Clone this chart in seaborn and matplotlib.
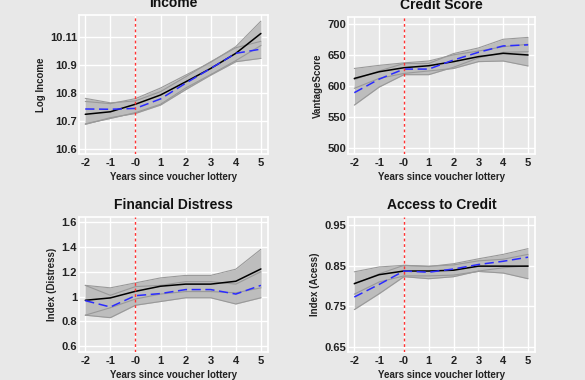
import numpy as np
import pandas as pd
import matplotlib
matplotlib.use("Agg")
import matplotlib.pyplot as plt
import seaborn as sns

# years relative to the voucher lottery
years = [-2, -1, 0, 1, 2, 3, 4, 5]
year_labels = ["-2", "-1", "-0", "1", "2", "3", "4", "5"]

# Income (log)
inc_solid = [10.724, 10.733, 10.760, 10.793, 10.840, 10.888, 10.942, 11.013]
inc_solid_lo = [10.690, 10.709, 10.730, 10.760, 10.818, 10.866, 10.916, 10.970]
inc_solid_hi = [10.770, 10.762, 10.780, 10.818, 10.864, 10.910, 10.966, 11.057]
inc_dash = [10.743, 10.742, 10.745, 10.779, 10.835, 10.888, 10.942, 10.957]
inc_dash_lo = [10.688, 10.712, 10.727, 10.757, 10.812, 10.864, 10.912, 10.924]
inc_dash_hi = [10.781, 10.765, 10.772, 10.805, 10.858, 10.912, 10.962, 10.985]

# Credit score
cs_solid = [611.9, 622.7, 629.2, 632.4, 639.0, 647.0, 652.4, 649.7]
cs_solid_lo = [596, 612, 620, 624, 628, 639, 640, 632]
cs_solid_hi = [628, 633, 637, 640, 650, 656, 663, 667]
cs_dash = [589.0, 610.8, 627.0, 627.0, 641.6, 654.0, 664.3, 666.0]
cs_dash_lo = [569, 598, 618, 618, 630, 645, 654, 655]
cs_dash_hi = [610, 624, 636, 636, 652, 661, 675, 678]

# Financial distress
fd_solid = [0.970, 0.989, 1.042, 1.083, 1.100, 1.100, 1.123, 1.222]
fd_solid_lo = [0.85, 0.91, 0.98, 1.02, 1.04, 1.04, 1.03, 1.07]
fd_solid_hi = [1.09, 1.07, 1.11, 1.15, 1.17, 1.17, 1.22, 1.38]
fd_dash = [0.967, 0.916, 1.007, 1.024, 1.056, 1.056, 1.020, 1.090]
fd_dash_lo = [0.85, 0.83, 0.93, 0.96, 0.99, 0.99, 0.94, 0.99]
fd_dash_hi = [1.09, 1.01, 1.08, 1.09, 1.12, 1.12, 1.10, 1.20]

# Access to credit
ac_solid = [0.806, 0.828, 0.837, 0.837, 0.839, 0.849, 0.849, 0.849]
ac_solid_lo = [0.780, 0.810, 0.825, 0.825, 0.827, 0.836, 0.832, 0.818]
ac_solid_hi = [0.835, 0.847, 0.851, 0.849, 0.852, 0.862, 0.866, 0.878]
ac_dash = [0.773, 0.804, 0.837, 0.834, 0.842, 0.853, 0.861, 0.871]
ac_dash_lo = [0.742, 0.781, 0.823, 0.818, 0.823, 0.837, 0.845, 0.850]
ac_dash_hi = [0.805, 0.830, 0.851, 0.848, 0.855, 0.867, 0.878, 0.892]

bg = "#e8e8e8"
sns.set_style("darkgrid", {"axes.facecolor": bg, "figure.facecolor": bg,
                           "grid.color": "white", "axes.edgecolor": "white"})
plt.rcParams["font.family"] = ["Liberation Sans", "DejaVu Sans"]
plt.rcParams["font.weight"] = "bold"

fig = plt.figure(figsize=(5.85, 3.8), dpi=100)
fig.patch.set_facecolor(bg)

panels = [
    ("Income", "Log Income", [0.135, 0.5947, 0.323, 0.3658],
     (inc_solid, inc_solid_lo, inc_solid_hi, inc_dash, inc_dash_lo, inc_dash_hi),
     (10.582, 11.079), [10.6, 10.7, 10.8, 10.9, 11.0],
     ["10.6", "10.7", "10.8", "10.9", "10.11"]),
    ("Credit Score", "VantageScore", [0.595, 0.5947, 0.3195, 0.3605],
     (cs_solid, cs_solid_lo, cs_solid_hi, cs_dash, cs_dash_lo, cs_dash_hi),
     (490.3, 710.8), [500, 550, 600, 650, 700],
     ["500", "550", "600", "650", "700"]),
    ("Financial Distress", "Index (Distress)", [0.135, 0.0737, 0.323, 0.3553],
     (fd_solid, fd_solid_lo, fd_solid_hi, fd_dash, fd_dash_lo, fd_dash_hi),
     (0.554, 1.640), [0.6, 0.8, 1.0, 1.2, 1.4, 1.6],
     ["0.6", "0.8", "1", "1.2", "1.4", "1.6"]),
    ("Access to Credit", "Index (Acess)", [0.595, 0.0737, 0.3195, 0.3553],
     (ac_solid, ac_solid_lo, ac_solid_hi, ac_dash, ac_dash_lo, ac_dash_hi),
     (0.6377, 0.970), [0.65, 0.75, 0.85, 0.95],
     ["0.65", "0.75", "0.85", "0.95"]),
]

for title, ylab, rect, series, ylim, yt, ytl in panels:
    ax = fig.add_axes(rect)
    solid, solid_lo, solid_hi, dash, dash_lo, dash_hi = series
    # confidence bands
    for lo, hi in [(solid_lo, solid_hi), (dash_lo, dash_hi)]:
        ax.fill_between(years, lo, hi, color="#bdbdbd", lw=0, zorder=2)
    for lo, hi in [(solid_lo, solid_hi), (dash_lo, dash_hi)]:
        ax.plot(years, lo, color="#999999", lw=0.8, zorder=3)
        ax.plot(years, hi, color="#999999", lw=0.8, zorder=3)
    df = pd.DataFrame({"year": years, "solid": solid, "dash": dash})
    sns.lineplot(data=df, x="year", y="solid", ax=ax, color="black", lw=1.1, zorder=4)
    sns.lineplot(data=df, x="year", y="dash", ax=ax, color="#2b2bff", lw=1.1, zorder=5)
    ax.lines[-1].set_dashes((6, 3))
    ax.axvline(0, color="#ff3333", ls=(0, (2, 2)), lw=1.0, zorder=6)
    ax.set_xlim(-2.25, 5.28)
    ax.set_ylim(*ylim)
    ax.set_xticks(years)
    ax.set_xticklabels(year_labels)
    ax.set_yticks(yt)
    ax.set_yticklabels(ytl)
    ax.grid(True, color="white", lw=1.0, zorder=1)
    ax.set_axisbelow(True)
    for s in ax.spines.values():
        s.set_color("white")
        s.set_linewidth(1.2)
    ax.tick_params(axis="both", length=0, labelsize=8, colors="#222222")
    ax.tick_params(axis="x", pad=3)
    ax.tick_params(axis="y", pad=1.5)
    for lbl in ax.get_xticklabels() + ax.get_yticklabels():
        lbl.set_fontweight("bold")
    ax.set_title(title, fontsize=10, fontweight="bold", pad=6, color="#111111")
    ax.set_xlabel("Years since voucher lottery", fontsize=7, fontweight="bold",
                  labelpad=3, color="#222222")
    ax.set_ylabel(ylab, fontsize=7, fontweight="bold", labelpad=3, color="#222222")

fig.savefig("out.png", dpi=100, facecolor=bg)
